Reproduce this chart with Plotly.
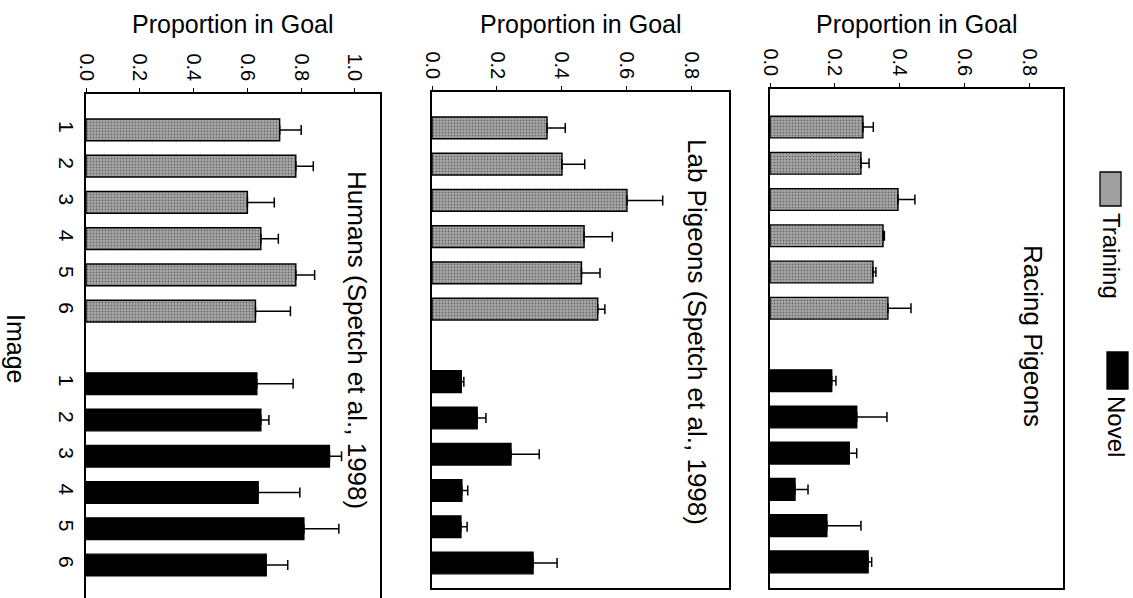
import plotly.graph_objects as go

# Image numbers shown on the category axis
images = ["1", "2", "3", "4", "5", "6"]
groups = ["Training", "Novel"]

# Mean proportion of time in goal and its standard error, per image
racing_training = [0.286, 0.280, 0.394, 0.348, 0.317, 0.363]
racing_training_sem = [0.032, 0.025, 0.052, 0.004, 0.009, 0.071]
racing_novel = [0.190, 0.267, 0.244, 0.077, 0.175, 0.302]
racing_novel_sem = [0.013, 0.093, 0.023, 0.040, 0.105, 0.011]

lab_training = [0.354, 0.400, 0.600, 0.468, 0.460, 0.510]
lab_training_sem = [0.056, 0.070, 0.110, 0.087, 0.057, 0.022]
lab_novel = [0.090, 0.139, 0.243, 0.092, 0.089, 0.311]
lab_novel_sem = [0.008, 0.027, 0.087, 0.018, 0.019, 0.074]

humans_training = [0.720, 0.780, 0.600, 0.650, 0.780, 0.630]
humans_training_sem = [0.080, 0.065, 0.100, 0.065, 0.070, 0.130]
humans_novel = [0.635, 0.650, 0.905, 0.640, 0.810, 0.670]
humans_novel_sem = [0.135, 0.030, 0.045, 0.155, 0.130, 0.080]

panel_titles = ["Humans (Spetch et al., 1998)",
                "Lab Pigeons (Spetch et al., 1998)",
                "Racing Pigeons"]

W, H = 1133, 598
FONT = "Liberation Sans, Arial, sans-serif"


def px_x(x):
    return x / W


def px_y(y):
    return 1 - y / H


# Training bars occupy slots 0-5, novel bars slots 7-12 (one empty slot between)
train_pos = list(range(len(images)))
novel_pos = [len(images) + 1 + i for i in range(len(images))]

panels = [
    dict(train=humans_training, train_sem=humans_training_sem,
         novel=humans_novel, novel_sem=humans_novel_sem,
         xdom=(86, 380), ydom=(94, 598), xmax=1.093, yrange=(12.91, -0.99),
         ticks=[0, 0.2, 0.4, 0.6, 0.8, 1.0], title_xy=(357, 340), labels=True),
    dict(train=lab_training, train_sem=lab_training_sem,
         novel=lab_novel, novel_sem=lab_novel_sem,
         xdom=(432, 729), ydom=(92, 588), xmax=0.914, yrange=(12.69, -0.99),
         ticks=[0, 0.2, 0.4, 0.6, 0.8], title_xy=(697, 332), labels=False),
    dict(train=racing_training, train_sem=racing_training_sem,
         novel=racing_novel, novel_sem=racing_novel_sem,
         xdom=(770, 1063), ydom=(89, 588), xmax=0.902, yrange=(12.72, -1.05),
         ticks=[0, 0.2, 0.4, 0.6, 0.8], title_xy=(1033, 336), labels=False),
]

training_marker = dict(
    color="#a0a0a0",
    line=dict(color="black", width=1.4),
    pattern=dict(shape=".", fgcolor="#2a2a2a", bgcolor="#a8a8a8",
                 size=3, solidity=0.3),
)
novel_marker = dict(color="black", line=dict(color="black", width=1.4))


def err(sem):
    return dict(type="data", array=sem, arrayminus=[0] * len(sem),
                symmetric=False, color="black", thickness=1.5, width=5)


def label(text, x, y, size, angle=0):
    return dict(text=text, x=px_x(x), y=px_y(y), xref="paper", yref="paper",
                xanchor="center", yanchor="middle", showarrow=False,
                textangle=angle, font=dict(size=size, color="black", family=FONT))


fig = go.Figure()
annotations = []
layout = {}

for i, p in enumerate(panels, start=1):
    xa = "x" if i == 1 else f"x{i}"
    ya = "y" if i == 1 else f"y{i}"
    fig.add_trace(go.Bar(
        x=p["train"], y=train_pos, orientation="h", width=0.6,
        marker=training_marker, error_x=err(p["train_sem"]),
        name=groups[0], showlegend=False, xaxis=xa, yaxis=ya))
    fig.add_trace(go.Bar(
        x=p["novel"], y=novel_pos, orientation="h", width=0.6,
        marker=novel_marker, error_x=err(p["novel_sem"]),
        name=groups[1], showlegend=False, xaxis=xa, yaxis=ya))

    xkey = "xaxis" if i == 1 else f"xaxis{i}"
    ykey = "yaxis" if i == 1 else f"yaxis{i}"
    layout[xkey] = dict(
        domain=[px_x(p["xdom"][0]), px_x(p["xdom"][1])],
        anchor=ya, side="top", range=[0, p["xmax"]], automargin=False,
        tickvals=p["ticks"], ticktext=[f"{t:.1f}" for t in p["ticks"]],
        tickangle=90, ticks="outside", ticklen=4, tickwidth=1.3,
        tickcolor="black", showline=True, linecolor="black", linewidth=1.6,
        mirror=p["labels"] is False, showgrid=False, zeroline=False,
        tickfont=dict(size=20, color="black", family=FONT),
    )
    layout[ykey] = dict(
        domain=[px_y(p["ydom"][1]), px_y(p["ydom"][0])],
        anchor=xa, range=list(p["yrange"]), autorange=False, automargin=False,
        tickvals=train_pos + novel_pos, ticktext=images + images,
        tickangle=90, ticks="", showticklabels=p["labels"],
        showline=True, linecolor="black", linewidth=1.6, mirror=True,
        showgrid=False, zeroline=False,
        tickfont=dict(size=21, color="black", family=FONT),
    )

    cx = (p["xdom"][0] + p["xdom"][1]) / 2
    annotations.append(label("Proportion in Goal", cx, 24, 25))
    tx, ty = p["title_xy"]
    annotations.append(label(panel_titles[i - 1], tx, ty, 26, 90))

# Shared category-axis title
annotations.append(label("Image", 16, 348, 25, 90))

# Legend drawn beside the top panel, rotated with the rest of the text
legend_text = [groups[0], groups[1]]
annotations.append(label(legend_text[0], 1111, 256, 24, 90))
annotations.append(label(legend_text[1], 1117, 426, 24, 90))

shapes = [
    dict(type="rect", xref="paper", yref="paper",
         x0=px_x(1100), x1=px_x(1121), y0=px_y(206), y1=px_y(172),
         fillcolor="#a0a0a0", line=dict(color="black", width=1.3)),
    dict(type="rect", xref="paper", yref="paper",
         x0=px_x(1107), x1=px_x(1128), y0=px_y(389), y1=px_y(352),
         fillcolor="black", line=dict(color="black", width=1.3)),
]

fig.update_layout(
    width=W, height=H, margin=dict(l=0, r=0, t=0, b=0),
    paper_bgcolor="white", plot_bgcolor="white",
    barmode="overlay", showlegend=False,
    font=dict(family=FONT, color="black"),
    annotations=annotations, shapes=shapes, **layout,
)

fig.write_html("out.html")
